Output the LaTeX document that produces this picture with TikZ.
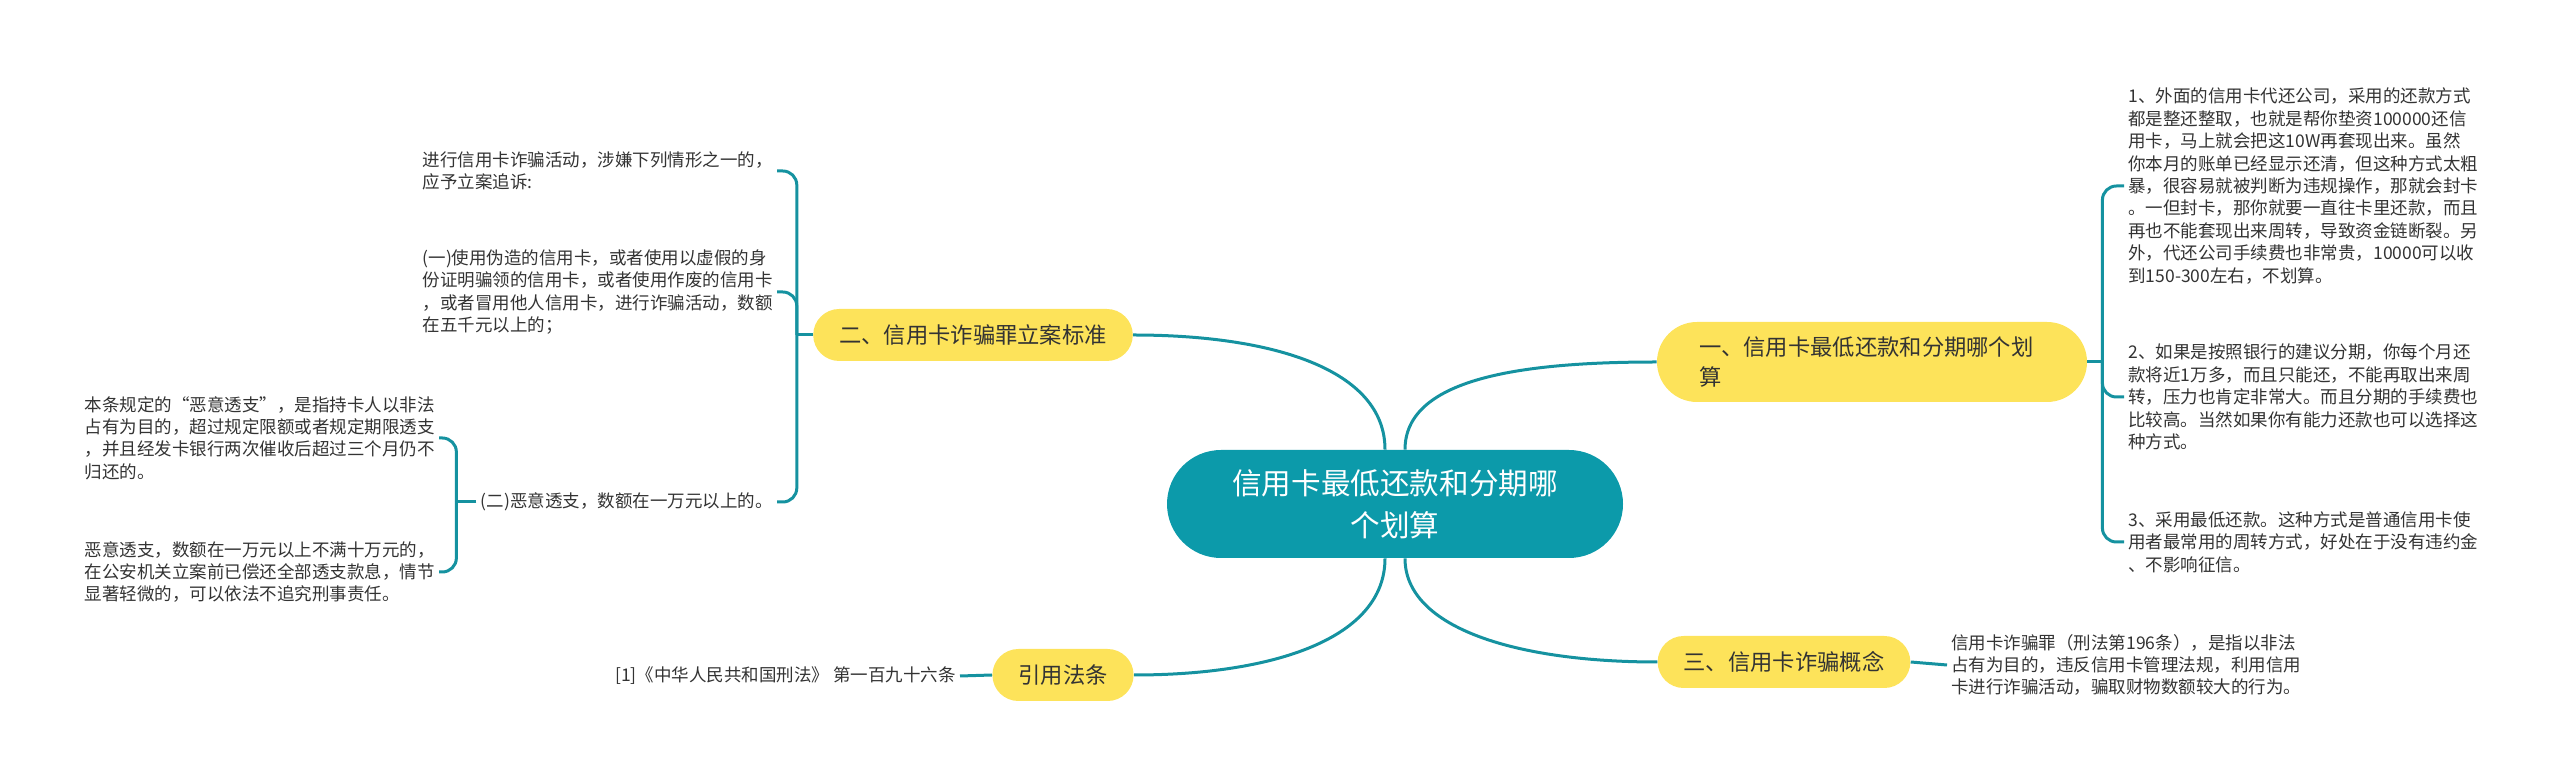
\documentclass[tikz,border=0pt]{standalone}
\usepackage{fontspec}
\newfontfamily\cjk{Noto Sans CJK SC}
\usepackage{xcolor}
\usepackage{tikz}
\usetikzlibrary{positioning}

\definecolor{linea}{HTML}{1592A0}
\definecolor{radice}{HTML}{0C9AAA}
\definecolor{giallo}{HTML}{FDE35A}
\definecolor{testo}{HTML}{333333}

\begin{document}
\begin{tikzpicture}[
      x=0.5pt, y=-0.5pt,
      link/.style={linea, line width=1.5pt},
      brace/.style={link, rounded corners=7pt},
      root/.style={fill=radice, text=white, rounded corners=27pt, minimum width=228pt, minimum height=54pt, align=center, font={\cjk\fontsize{14.8pt}{21pt}\selectfont}},
      topic/.style={fill=giallo, text=testo, rounded corners=13pt, minimum height=26pt, inner xsep=13pt, font={\cjk\fontsize{11.15pt}{15pt}\selectfont}},
      leaf/.style={text=testo, align=left, inner xsep=2pt, inner ysep=1pt, font={\cjk\fontsize{8.75pt}{11.2pt}\selectfont}}
    ]
    \useasboundingbox (0,0) rectangle (2560,779);

    % Nodo centrale e rami
    \node[root] (root) at (1395,504) {信用卡最低还款和分期哪\\个划算};
    \node[topic, text width=173pt, align=left, inner xsep=21pt, rounded corners=20pt, minimum height=40pt] (t1) at (1872,362) {一、信用卡最低还款和分期哪个划\\算};
    \node[topic] (t2) at (973,335) {二、信用卡诈骗罪立案标准};
    \node[topic] (t3) at (1784,662) {三、信用卡诈骗概念};
    \node[topic] (t4) at (1063,675) {引用法条};

    \draw[link] ([xshift=-5pt]root.north) .. controls +(0,-80) and +(140,0) .. (t2.east);
    \draw[link] ([xshift=5pt]root.north) .. controls +(0,-70) and +(-140,0) .. (t1.west);
    \draw[link] ([xshift=-5pt]root.south) .. controls +(0,80) and +(140,0) .. (t4.east);
    \draw[link] ([xshift=5pt]root.south) .. controls +(0,70) and +(-140,0) .. (t3.west);

    % Foglie a destra
    \node[leaf, anchor=west] (l11) at (2124,186) {1、外面的信用卡代还公司，采用的还款方式\\都是整还整取，也就是帮你垫资100000还信\\用卡，马上就会把这10W再套现出来。虽然\\你本月的账单已经显示还清，但这种方式太粗\\暴，很容易就被判断为违规操作，那就会封卡\\。一但封卡，那你就要一直往卡里还款，而且\\再也不能套现出来周转，导致资金链断裂。另\\外，代还公司手续费也非常贵，10000可以收\\到150-300左右，不划算。};
    \node[leaf, anchor=west] (l12) at (2124,397) {2、如果是按照银行的建议分期，你每个月还\\款将近1万多，而且只能还，不能再取出来周\\转，压力也肯定非常大。而且分期的手续费也\\比较高。当然如果你有能力还款也可以选择这\\种方式。};
    \node[leaf, anchor=west] (l13) at (2124,542) {3、采用最低还款。这种方式是普通信用卡使\\用者最常用的周转方式，好处在于没有违约金\\、不影响征信。};
    \node[leaf, anchor=west] (l31) at (1947,665) {信用卡诈骗罪（刑法第196条），是指以非法\\占有为目的，违反信用卡管理法规，利用信用\\卡进行诈骗活动，骗取财物数额较大的行为。};

    \draw[link] (t1.east) -- ++(15,0) coordinate (j1);
    \foreach \f in {l11,l12,l13} \draw[brace] (j1) |- (\f.west);
    \draw[link] (t3.east) -- (l31.west);

    % Foglie a sinistra
    \node[leaf, anchor=east] (l21) at (777,171) {进行信用卡诈骗活动，涉嫌下列情形之一的，\\应予立案追诉:};
    \node[leaf, anchor=east] (l22) at (777,292) {(一)使用伪造的信用卡，或者使用以虚假的身\\份证明骗领的信用卡，或者使用作废的信用卡\\，或者冒用他人信用卡，进行诈骗活动，数额\\在五千元以上的；};
    \node[leaf, anchor=east] (l23) at (777,502) {(二)恶意透支，数额在一万元以上的。};
    \node[leaf, anchor=east] (l231) at (439,438) {本条规定的“恶意透支”，是指持卡人以非法\\占有为目的，超过规定限额或者规定期限透支\\，并且经发卡银行两次催收后超过三个月仍不\\归还的。};
    \node[leaf, anchor=east] (l232) at (439,572) {恶意透支，数额在一万元以上不满十万元的，\\在公安机关立案前已偿还全部透支款息，情节\\显著轻微的，可以依法不追究刑事责任。};
    \node[leaf, anchor=east] (l41) at (960,676) {[1]《中华人民共和国刑法》 第一百九十六条};

    \draw[link] (t2.west) -- ++(-16,0) coordinate (j2);
    \foreach \f in {l21,l22,l23} \draw[brace] (j2) |- (\f.east);
    \draw[link] (l23.west) -- ++(-20,0) coordinate (j23);
    \foreach \f in {l231,l232} \draw[brace] (j23) |- (\f.east);
    \draw[link] (t4.west) -- (l41.east);
  \end{tikzpicture}
\end{document}
